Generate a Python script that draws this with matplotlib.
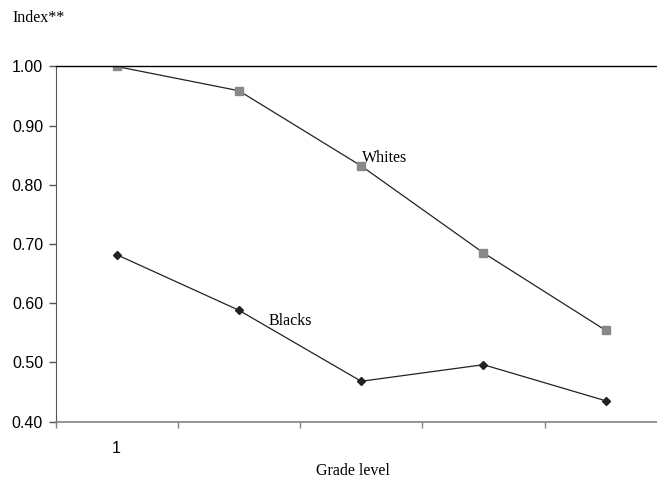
import matplotlib.pyplot as plt
import numpy as np

# データ
grades = ["1", "", "", "", ""]
whites = [1.00, 0.959, 0.832, 0.685, 0.554]
blacks = [0.682, 0.588, 0.468, 0.496, 0.435]
yticks = [0.40, 0.50, 0.60, 0.70, 0.80, 0.90, 1.00]

fig = plt.figure(figsize=(6.57, 4.78), dpi=100)
ax = fig.add_axes([0.0845, 0.1182, 0.9305, 0.7427])

x = np.arange(len(grades)) + 0.5
ax.plot(x, whites, color="#222222", lw=0.9, marker="s", ms=5.5,
        mfc="#888888", mec="#888888")
ax.plot(x, blacks, color="#222222", lw=0.9, marker="D", ms=4.5,
        mfc="#222222", mec="#222222")

ax.set_xlim(0, len(grades))
ax.set_ylim(0.40, 1.00)
ax.set_yticks(yticks)
ax.set_yticklabels([f"{v:.2f}" for v in yticks], family="Liberation Sans", fontsize=11.5)
ax.set_xticks(np.arange(len(grades) + 1))
ax.set_xticklabels([])
ax.set_xticks(x, minor=True)
ax.set_xticklabels(grades, minor=True, family="Liberation Sans", fontsize=11.5)
ax.tick_params(axis="x", which="minor", length=0, pad=14)
ax.tick_params(axis="x", which="major", length=4, width=1, color="#808080", direction="out")
ax.tick_params(axis="y", length=5, width=1, color="#555555", pad=4)

ax.spines["right"].set_visible(False)
ax.spines["top"].set_color("black")
ax.spines["top"].set_linewidth(1.0)
ax.spines["left"].set_color("#555555")
ax.spines["bottom"].set_color("#808080")
ax.spines["bottom"].set_linewidth(1.2)

ax.text(2.507, 0.839, "Whites", family="Liberation Serif", fontsize=11.5, va="baseline")
ax.text(1.739, 0.563, "Blacks", family="Liberation Serif", fontsize=11.5, va="baseline")

fig.text(12 / 657, 1 - 18 / 478, "Index**", family="Liberation Serif", fontsize=11.5, va="center")
fig.text(353 / 657, 1 - 471 / 478, "Grade level", family="Liberation Serif", fontsize=11.5,
         ha="center", va="center")

fig.savefig("out.png", dpi=100)
